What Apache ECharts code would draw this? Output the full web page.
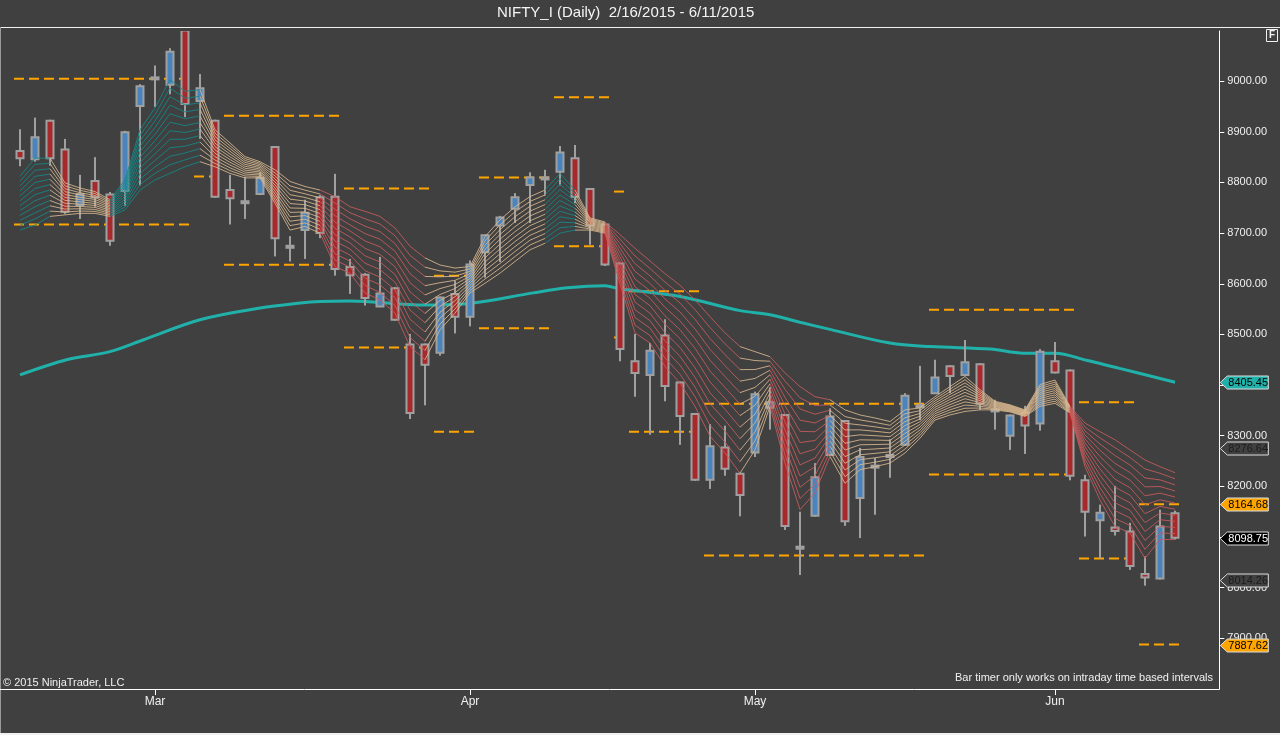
<!DOCTYPE html>
<html>
<head>
<meta charset="utf-8">
<title>NIFTY_I (Daily)</title>
<script src="https://cdn.jsdelivr.net/npm/echarts@6/dist/echarts.min.js"></script>
<style>
  html, body { margin: 0; padding: 0; background: #404040; }
  #chart { width: 1280px; height: 735px; }
</style>
</head>
<body>
<div id="chart"></div>
<script>
(function() {
  // trading days shown on the chart (one candle each)
  var dates = [
    '2015-02-18','2015-02-19','2015-02-20','2015-02-23','2015-02-24','2015-02-25','2015-02-26','2015-02-27','2015-02-28',
    '2015-03-02','2015-03-03','2015-03-04','2015-03-05','2015-03-09','2015-03-10','2015-03-11','2015-03-12','2015-03-13',
    '2015-03-16','2015-03-17','2015-03-18','2015-03-19','2015-03-20','2015-03-23','2015-03-24','2015-03-25','2015-03-26',
    '2015-03-27','2015-03-30','2015-03-31',
    '2015-04-01','2015-04-06','2015-04-07','2015-04-08','2015-04-09','2015-04-10','2015-04-13','2015-04-15','2015-04-16',
    '2015-04-17','2015-04-20','2015-04-21','2015-04-22','2015-04-23','2015-04-24','2015-04-27','2015-04-28','2015-04-29',
    '2015-04-30',
    '2015-05-04','2015-05-05','2015-05-06','2015-05-07','2015-05-08','2015-05-11','2015-05-12','2015-05-13','2015-05-14',
    '2015-05-15','2015-05-18','2015-05-19','2015-05-20','2015-05-21','2015-05-22','2015-05-25','2015-05-26','2015-05-27',
    '2015-05-28','2015-05-29',
    '2015-06-01','2015-06-02','2015-06-03','2015-06-04','2015-06-05','2015-06-08','2015-06-09','2015-06-10','2015-06-11'
  ];

  var opens = [
    8862, 8846, 8922, 8865, 8755, 8803, 8776, 8783, 8951, 9004,
    8993, 9100, 8961, 8922, 8785, 8762, 8777, 8870, 8674, 8706,
    8771, 8772, 8633, 8618, 8555, 8591, 8480, 8480, 8464, 8580,
    8535, 8662, 8715, 8748, 8795, 8807, 8821, 8848, 8787, 8717,
    8640, 8447, 8420, 8498, 8405, 8343, 8213, 8277, 8225, 8267,
    8355, 8341, 8080, 8142, 8262, 8329, 8177, 8240, 8261, 8282,
    8359, 8384, 8437, 8420, 8441, 8351, 8300, 8346, 8324, 8447,
    8429, 8212, 8133, 8119, 8111, 8027, 8018, 8147
  ];
  var highs = [
    8905, 8928, 8924, 8886, 8815, 8850, 8781, 8902, 8994, 9031,
    9065, 9120, 9014, 8924, 8815, 8811, 8820, 8872, 8694, 8766,
    8775, 8817, 8649, 8621, 8653, 8593, 8501, 8482, 8575, 8606,
    8646, 8697, 8734, 8779, 8820, 8825, 8872, 8874, 8789, 8719,
    8642, 8501, 8483, 8530, 8407, 8345, 8323, 8320, 8227, 8387,
    8396, 8343, 8150, 8246, 8354, 8331, 8276, 8256, 8293, 8384,
    8438, 8450, 8439, 8489, 8443, 8371, 8342, 8359, 8471, 8485,
    8431, 8223, 8164, 8201, 8128, 8062, 8154, 8152
  ];
  var lows = [
    8832, 8841, 8833, 8738, 8728, 8752, 8675, 8754, 8794, 8949,
    8974, 8929, 8886, 8770, 8717, 8728, 8775, 8654, 8644, 8649,
    8690, 8616, 8580, 8557, 8554, 8527, 8333, 8360, 8458, 8502,
    8516, 8612, 8643, 8720, 8720, 8774, 8794, 8759, 8677, 8635,
    8447, 8377, 8302, 8368, 8282, 8211, 8195, 8221, 8141, 8258,
    8312, 8114, 8025, 8140, 8260, 8122, 8098, 8144, 8217, 8280,
    8331, 8384, 8384, 8418, 8351, 8312, 8272, 8264, 8310, 8423,
    8212, 8101, 8058, 8103, 8035, 8004, 8016, 8095
  ];
  var closes = [
    8848, 8889, 8848, 8742, 8777, 8771, 8685, 8899, 8990, 9007,
    9058, 8955, 8986, 8772, 8769, 8760, 8809, 8690, 8672, 8740,
    8700, 8629, 8617, 8572, 8581, 8529, 8345, 8440, 8573, 8535,
    8638, 8696, 8731, 8771, 8810, 8809, 8859, 8772, 8715, 8638,
    8471, 8424, 8468, 8398, 8339, 8213, 8279, 8235, 8183, 8382,
    8366, 8122, 8078, 8218, 8338, 8131, 8258, 8238, 8259, 8379,
    8357, 8415, 8418, 8445, 8363, 8349, 8340, 8320, 8466, 8425,
    8221, 8150, 8148, 8112, 8043, 8020, 8121, 8098.75
  ];

  // moving-average ribbon: outer edges per bar, trend of the segment that starts at the bar
  var ribbonUpper = [
    8812, 8848, 8848, 8799, 8789, 8782, 8766, 8805, 8904, 8947,
    9003, 8980, 8983, 8904, 8878, 8851, 8841, 8825, 8802, 8792,
    8785, 8772, 8752, 8743, 8733, 8710, 8674, 8651, 8637, 8631,
    8634, 8693, 8726, 8752, 8772, 8785, 8818, 8785, 8730, 8722,
    8697, 8670, 8645, 8620, 8597, 8568, 8535, 8503, 8476, 8466,
    8456, 8424, 8397, 8377, 8371, 8351, 8341, 8335, 8328, 8351,
    8355, 8377, 8397, 8417, 8391, 8368, 8361, 8351, 8401, 8410,
    8358, 8325, 8308, 8292, 8272, 8252, 8239, 8227
  ];
  var ribbonLower = [
    8706, 8716, 8733, 8736, 8739, 8739, 8733, 8746, 8785, 8805,
    8818, 8831, 8841, 8831, 8818, 8809, 8809, 8759, 8706, 8713,
    8700, 8634, 8621, 8582, 8568, 8542, 8476, 8450, 8509, 8542,
    8582, 8601, 8621, 8644, 8667, 8680, 8700, 8706, 8706, 8700,
    8600, 8503, 8483, 8437, 8404, 8358, 8299, 8266, 8226, 8272,
    8358, 8246, 8154, 8187, 8259, 8206, 8233, 8239, 8246, 8266,
    8295, 8331, 8341, 8348, 8351, 8351, 8347, 8338, 8358, 8364,
    8345, 8239, 8173, 8121, 8108, 8058, 8095, 8095
  ];
  var ribbonTrend = [
     1,  1,  0,  0,  0,  0,  1,  1,  1,  1,
     1,  1,  0,  0,  0,  0,  0,  0,  0,  0,
    -1, -1, -1, -1, -1, -1, -1,  0,  0,  0,
     0,  0,  0,  0,  0,  1,  1,  0,  0, -1,
    -1, -1, -1, -1, -1, -1, -1, -1,  0,  0,
    -1, -1, -1, -1,  0,  0,  0,  0,  0,  0,
     0,  0,  0,  0,  0,  0,  0,  0,  0,  0,
    -1, -1, -1, -1, -1, -1, -1, -1
  ];

  // long moving average (bar position, value)
  var maPos = [0, 3.1, 6, 8.2, 12, 16, 18.7, 20, 22, 27, 30.2, 34.2, 36.5, 39, 40, 44,
               48, 50, 52, 54, 58, 60.7, 64.7, 66.9, 69, 71.1, 73.3, 77];
  var maVal = [8420, 8450, 8466, 8489, 8529, 8552, 8562, 8565, 8566, 8558, 8562, 8582, 8592, 8596, 8590, 8575,
               8547, 8539, 8524, 8510, 8483, 8476, 8471, 8463, 8463, 8449, 8433, 8405.45];

  // orange dashed levels: first bar, last bar, upper level, lower level
  var levelFrom  = [0, 12, 14, 22, 28, 31, 36, 40, 41, 46, 61, 71, 75];
  var levelTo    = [11, 13, 21, 27, 30, 35, 39, 40, 45, 60, 70, 74, 77];
  var levelUpper = [9004.5, 8812, 8931.5, 8788, 8616, 8810, 8968, 8782, 8585, 8363, 8548.5, 8366, 8164.68];
  var levelLower = [8717, null, 8637.5, 8474, 8308, 8512, 8674, 8494, 8308, 8063.5, 8223.5, 8057.6, 7887.62];

  // price flags on the right axis
  var flagValues = [8405.45, 8276.64, 8164.68, 8098.75, 8014.26, 7887.62];
  var flagFill   = ['#20b2aa', '#404040', '#ffa500', '#000000', '#404040', '#ffa500'];
  var flagInk    = ['#000000', '#1c1c1c', '#000000', '#ffffff', '#1c1c1c', '#000000'];

  var priceTicks = [7900, 8000, 8100, 8200, 8300, 8400, 8500, 8600, 8700, 8800, 8900, 9000];
  var monthTicks = [9, 30, 49, 69];
  var monthNames = ['Jan', 'Feb', 'Mar', 'Apr', 'May', 'Jun', 'Jul', 'Aug', 'Sep', 'Oct', 'Nov', 'Dec'];

  var font = "'Liberation Sans', Arial, sans-serif";
  var xMin = -1.3333, xMax = 79.953;
  var wickGray = '#a0a0a0';
  var upFill = '#4a84bc', downFill = '#a8292b';
  var ribbonColors = { '1': '#138a8a', '0': '#d9b98f', '-1': '#c95c5c' };

  var candleData = dates.map(function(d, i) {
    return [i, opens[i], highs[i], lows[i], closes[i]];
  });
  var ribbonData = [];
  for (var i = 0; i < dates.length - 1; i++) {
    ribbonData.push([i, ribbonUpper[i], ribbonLower[i], ribbonUpper[i + 1], ribbonLower[i + 1], ribbonTrend[i]]);
  }
  var maData = maPos.map(function(p, i) { return [p, maVal[i]]; });
  var levelData = levelFrom.map(function(f, i) {
    return [f - 0.4, levelTo[i] + 0.47, levelUpper[i], levelLower[i] == null ? NaN : levelLower[i]];
  });
  var flagData = flagValues.map(function(v, i) { return [v, i]; });

  function renderCandle(params, api) {
    var x = api.value(0);
    var o = api.value(1), h = api.value(2), l = api.value(3), c = api.value(4);
    var pH = api.coord([x, h]), pL = api.coord([x, l]);
    var yO = api.coord([x, o])[1], yC = api.coord([x, c])[1];
    var w = 7;
    var top = Math.min(yO, yC), bot = Math.max(yO, yC);
    var fill = c > o ? upFill : downFill;
    if (bot - top < 2.5) {
      var mid = (top + bot) / 2;
      top = mid - 1; bot = mid + 1;
      fill = wickGray;
    }
    return {
      type: 'group',
      children: [
        { type: 'line', shape: { x1: pH[0], y1: pH[1], x2: pL[0], y2: pL[1] },
          style: { stroke: wickGray, lineWidth: 2 } },
        { type: 'rect', shape: { x: pH[0] - w / 2, y: top, width: w, height: bot - top },
          style: { fill: fill, stroke: wickGray, lineWidth: 2 } }
      ]
    };
  }

  function renderRibbon(params, api) {
    var x = api.value(0);
    var a = api.coord([x, api.value(1)]), b = api.coord([x, api.value(2)]);
    var c = api.coord([x + 1, api.value(3)]), d = api.coord([x + 1, api.value(4)]);
    var color = ribbonColors[String(api.value(5))];
    var kids = [];
    var n = 12;
    for (var k = 0; k < n; k++) {
      var t = k / (n - 1);
      kids.push({
        type: 'line',
        shape: { x1: a[0], y1: a[1] + (b[1] - a[1]) * t, x2: c[0], y2: c[1] + (d[1] - c[1]) * t },
        style: { stroke: color, lineWidth: 1, opacity: 0.85 }
      });
    }
    return { type: 'group', children: kids };
  }

  function renderLevel(params, api) {
    var x0 = api.value(0), x1 = api.value(1);
    var kids = [];
    [api.value(2), api.value(3)].forEach(function(v) {
      if (isNaN(v)) return;
      var p0 = api.coord([x0, v]), p1 = api.coord([x1, v]);
      kids.push({
        type: 'line',
        shape: { x1: p0[0], y1: p0[1], x2: p1[0], y2: p1[1] },
        style: { stroke: '#ffa500', lineWidth: 2, lineDash: [10, 5] }
      });
    });
    return { type: 'group', children: kids };
  }

  function renderFlag(params, api) {
    var v = api.value(0), k = api.value(1);
    var p = api.coord([xMax, v]);
    var x0 = p[0] + 1, y = Math.round(p[1]) + 0.5;
    return {
      type: 'group',
      children: [
        { type: 'polygon',
          shape: { points: [[x0, y], [x0 + 7, y - 6.5], [x0 + 48, y - 6.5], [x0 + 48, y + 6.5], [x0 + 7, y + 6.5]] },
          style: { fill: flagFill[k], stroke: '#dcdcdc', lineWidth: 1 } },
        { type: 'text', x: x0 + 8, y: y + 0.5,
          style: { text: v.toFixed(2), fill: flagInk[k], font: '11px ' + font,
                   textAlign: 'left', textVerticalAlign: 'middle', verticalAlign: 'middle' } }
      ]
    };
  }

  var chart = echarts.init(document.getElementById('chart'), null, { renderer: 'canvas' });
  chart.setOption({
    animation: false,
    backgroundColor: '#404040',
    grid: { left: 0, right: 60.7, top: 31, bottom: 46, containLabel: false, outerBoundsMode: 'none' },
    xAxis: {
      type: 'value',
      min: xMin,
      max: xMax,
      axisLine: { onZero: false, lineStyle: { color: '#ffffff', width: 1 } },
      axisTick: { customValues: monthTicks, length: 6, lineStyle: { color: '#ffffff' } },
      axisLabel: {
        customValues: monthTicks,
        color: '#f0f0f0',
        fontSize: 12,
        fontFamily: font,
        margin: 7,
        formatter: function(v) {
          var d = dates[Math.round(v)];
          return d ? monthNames[parseInt(d.slice(5, 7), 10) - 1] : '';
        }
      },
      splitLine: { show: false }
    },
    yAxis: {
      type: 'value',
      position: 'right',
      min: 7800,
      max: 9099,
      interval: 100,
      axisLine: { show: true, onZero: false, lineStyle: { color: '#ffffff', width: 1 } },
      axisTick: { show: true, customValues: priceTicks, length: 5, lineStyle: { color: '#ffffff' } },
      axisLabel: {
        customValues: priceTicks,
        color: '#f0f0f0',
        fontSize: 11,
        fontFamily: font,
        margin: 8,
        formatter: function(v) { return v.toFixed(2); }
      },
      splitLine: { show: false }
    },
    series: [
      {
        name: 'levels',
        type: 'custom',
        renderItem: renderLevel,
        data: levelData,
        encode: { x: [0, 1], y: [2, 3] },
        clip: true,
        z: 1
      },
      {
        name: 'long average',
        type: 'line',
        data: maData,
        smooth: 0.35,
        symbol: 'none',
        lineStyle: { color: '#20b2aa', width: 3 },
        z: 2
      },
      {
        name: 'NIFTY_I',
        type: 'custom',
        renderItem: renderCandle,
        data: candleData,
        encode: { x: 0, y: [1, 2, 3, 4] },
        clip: true,
        z: 3
      },
      {
        name: 'ribbon',
        type: 'custom',
        renderItem: renderRibbon,
        data: ribbonData,
        encode: { x: 0, y: [1, 2, 3, 4] },
        clip: true,
        z: 4
      },
      {
        name: 'flags',
        type: 'custom',
        renderItem: renderFlag,
        data: flagData,
        encode: { y: 0 },
        clip: false,
        z: 10
      }
    ],
    graphic: [
      { type: 'text', left: 633 - 136, top: 5,
        style: { text: 'NIFTY_I (Daily)  2/16/2015 - 6/11/2015', fill: '#f4f4f4', font: '15px ' + font } },
      { type: 'line', shape: { x1: 0, y1: 27.5, x2: 1280, y2: 27.5 }, style: { stroke: '#f0f0f0', lineWidth: 1 } },
      { type: 'line', shape: { x1: 0.5, y1: 27, x2: 0.5, y2: 735 }, style: { stroke: '#9a9a9a', lineWidth: 1 } },
      { type: 'line', shape: { x1: 0, y1: 734, x2: 1280, y2: 734 }, style: { stroke: '#f0f0f0', lineWidth: 2 } },
      { type: 'rect', shape: { x: 1266.5, y: 29.5, width: 11, height: 12 },
        style: { fill: '#404040', stroke: '#f0f0f0', lineWidth: 1 } },
      { type: 'text', x: 1269, y: 30, style: { text: 'F', fill: '#f0f0f0', font: 'bold 10px ' + font } },
      { type: 'text', x: 3, y: 677,
        style: { text: '\u00a9 2015 NinjaTrader, LLC', fill: '#f0f0f0', font: '11px ' + font } },
      { type: 'text', x: 955, y: 672,
        style: { text: 'Bar timer only works on intraday time based intervals', fill: '#f0f0f0', font: '11px ' + font } }
    ]
  });
  window.addEventListener('resize', function() { chart.resize(); });
})();
</script>
</body>
</html>
